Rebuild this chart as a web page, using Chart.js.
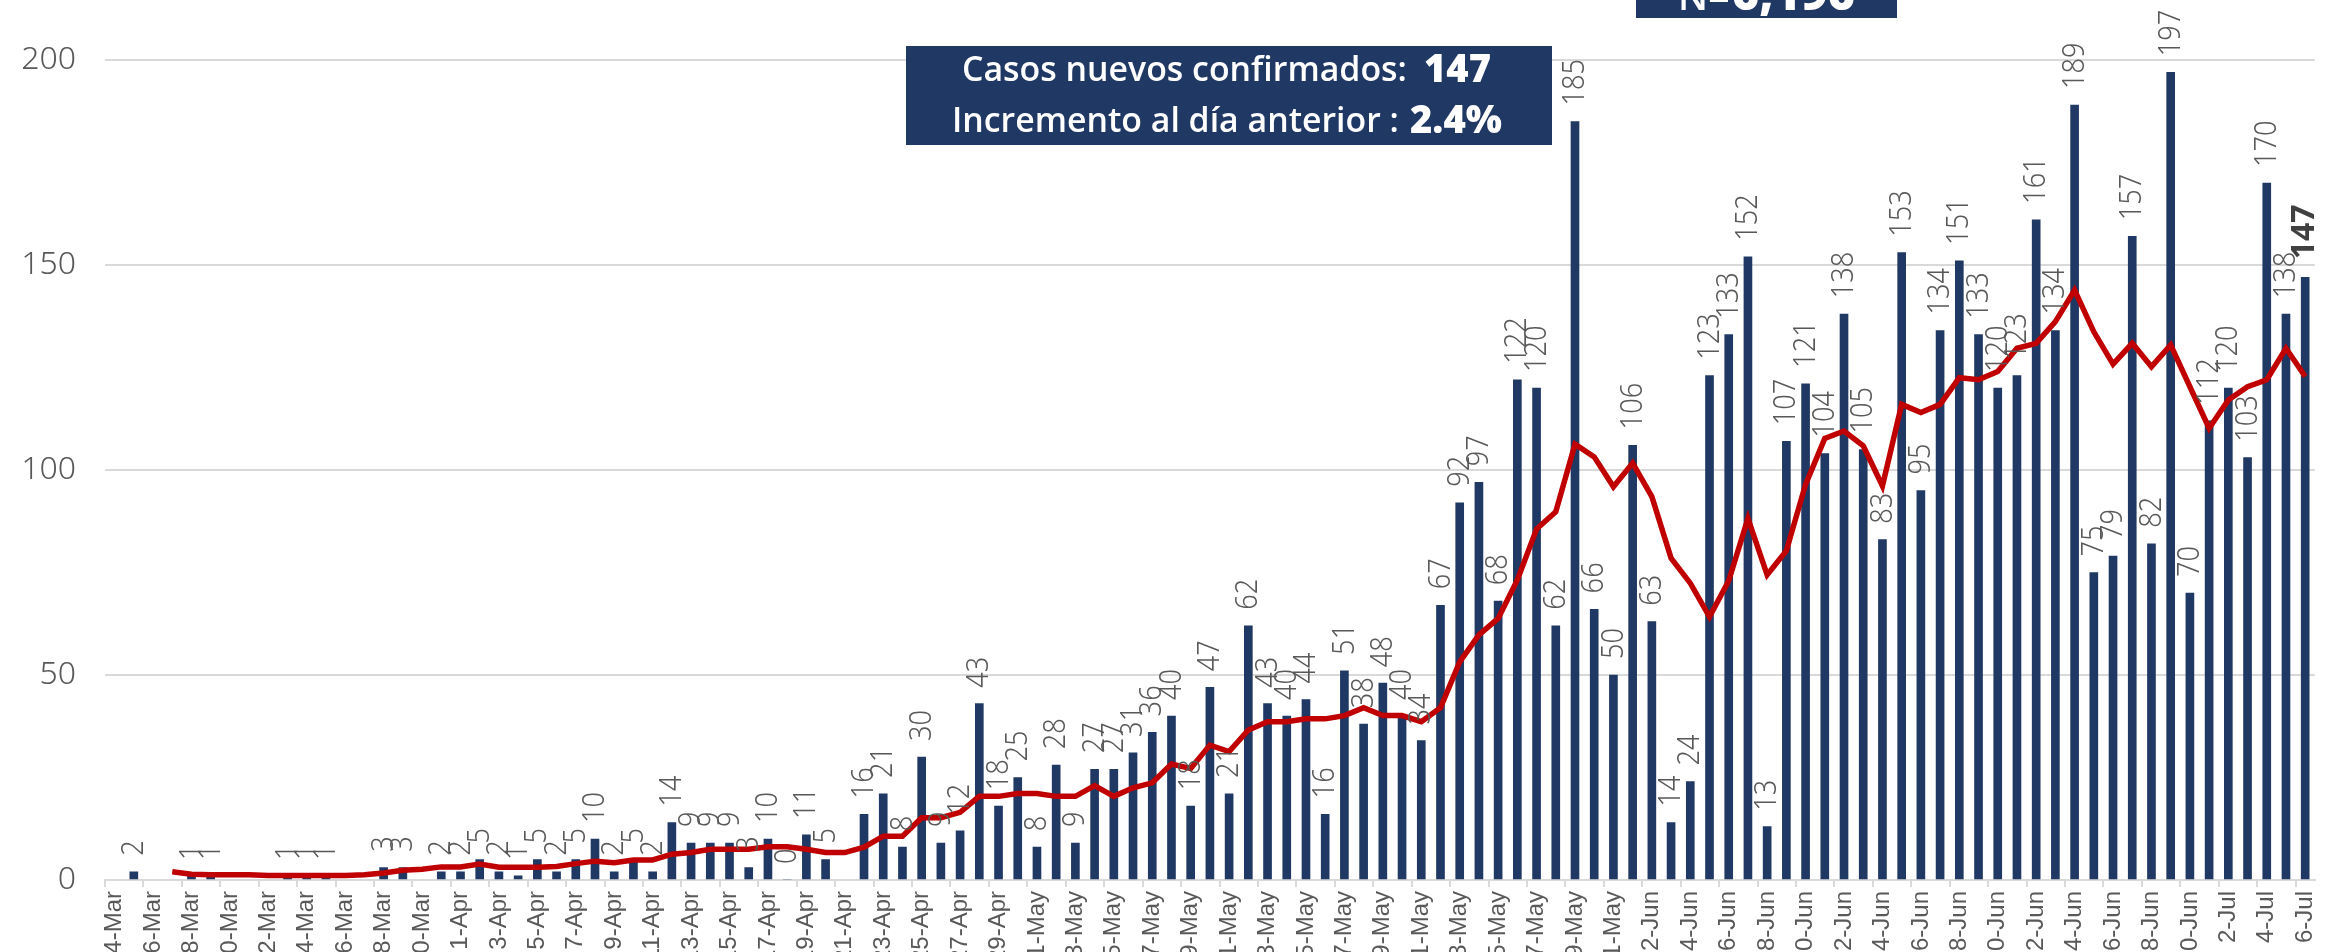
<!DOCTYPE html>
<html>
<head>
<meta charset="utf-8">
<script src="https://cdn.jsdelivr.net/npm/chart.js"></script>
<style>
  html, body { margin: 0; padding: 0; background: #fff; overflow: hidden; }
  #wrap { position: absolute; left: 0; top: 0; width: 2338px; height: 1000px; }
</style>
</head>
<body>
<div id="wrap"><canvas id="myChart" width="2338" height="1000"></canvas></div>
<script>
'use strict';

// fechas (una categoria por dia, 14-Mar a 6-Jul)
const fechas = [
  '14-Mar','15-Mar','16-Mar','17-Mar','18-Mar','19-Mar','20-Mar','21-Mar','22-Mar','23-Mar',
  '24-Mar','25-Mar','26-Mar','27-Mar','28-Mar','29-Mar','30-Mar','31-Mar',
  '1-Apr','2-Apr','3-Apr','4-Apr','5-Apr','6-Apr','7-Apr','8-Apr','9-Apr','10-Apr',
  '11-Apr','12-Apr','13-Apr','14-Apr','15-Apr','16-Apr','17-Apr','18-Apr','19-Apr','20-Apr',
  '21-Apr','22-Apr','23-Apr','24-Apr','25-Apr','26-Apr','27-Apr','28-Apr','29-Apr','30-Apr',
  '1-May','2-May','3-May','4-May','5-May','6-May','7-May','8-May','9-May','10-May',
  '11-May','12-May','13-May','14-May','15-May','16-May','17-May','18-May','19-May','20-May',
  '21-May','22-May','23-May','24-May','25-May','26-May','27-May','28-May','29-May','30-May','31-May',
  '1-Jun','2-Jun','3-Jun','4-Jun','5-Jun','6-Jun','7-Jun','8-Jun','9-Jun','10-Jun',
  '11-Jun','12-Jun','13-Jun','14-Jun','15-Jun','16-Jun','17-Jun','18-Jun','19-Jun','20-Jun',
  '21-Jun','22-Jun','23-Jun','24-Jun','25-Jun','26-Jun','27-Jun','28-Jun','29-Jun','30-Jun',
  '1-Jul','2-Jul','3-Jul','4-Jul','5-Jul','6-Jul'
];

// casos nuevos por dia (null = sin dato)
const casosDiarios = [
  null, 2, null, null, 1, 1, null, null, null, 1,
  1, 1, null, null, 3, 3, null, 2,
  2, 5, 2, 1, 5, 2, 5, 10, 2, 5,
  2, 14, 9, 9, 9, 3, 10, 0, 11, 5,
  null, 16, 21, 8, 30, 9, 12, 43, 18, 25,
  8, 28, 9, 27, 27, 31, 36, 40, 18, 47,
  21, 62, 43, 40, 44, 16, 51, 38, 48, 40,
  34, 67, 92, 97, 68, 122, 120, 62, 185, 66, 50,
  106, 63, 14, 24, 123, 133, 152, 13, 107, 121,
  104, 138, 105, 83, 153, 95, 134, 151, 133, 120,
  123, 161, 134, 189, 75, 79, 157, 82, 197, 70,
  112, 120, 103, 170, 138, 147
];

// linea roja (promedio movil)
const promedioMovil = [
  null, null, null, 2.0, 1.4, 1.3, 1.3, 1.3, 1.1, 1.1,
  1.1, 1.1, 1.1, 1.3, 1.7, 2.4, 2.6, 3.2,
  3.2, 3.9, 3.1, 3.1, 3.1, 3.3, 4.0, 4.6, 4.2, 4.9,
  4.9, 6.3, 6.7, 7.5, 7.5, 7.5, 8.1, 8.1, 7.5, 6.7,
  6.7, 8.0, 10.7, 10.7, 15.2, 15.2, 16.5, 20.4, 20.4, 21.1,
  21.1, 20.4, 20.4, 23.0, 20.4, 22.5, 23.7, 28.3, 27.2, 32.9,
  31.3, 36.6, 38.6, 38.6, 39.3, 39.3, 40.1, 42.0, 40.1, 40.1,
  38.6, 42.0, 53.2, 59.8, 63.8, 73.2, 85.6, 89.8, 106.3, 103.2, 95.9,
  101.7, 93.5, 78.5, 72.4, 64.2, 73.0, 88.2, 74.4, 80.3, 96.5,
  107.7, 109.5, 105.9, 96.1, 116.0, 114.0, 116.0, 122.5, 122.0, 124.0,
  129.7, 130.9, 136.2, 143.9, 133.7, 125.8, 130.9, 125.2, 130.5, 120.3,
  110.2, 117.1, 120.3, 122.0, 129.7, 122.8
];

const yTicks = [0, 50, 100, 150, 200];

const resumen = {
  casosHoy: '147',
  incremento: '2.4%',
  total: '6,196'
};

const NAVY = '#203864';
const GRAY = '#595959';

// escribe texto ajustado a un ancho dado
function fitText(ctx, text, weight, family, x, y, width) {
  ctx.font = weight + ' 100px ' + family;
  const w = ctx.measureText(text).width;
  const size = 100 * width / w;
  ctx.font = weight + ' ' + size.toFixed(2) + 'px ' + family;
  ctx.fillText(text, x, y);
}

const valueLabels = {
  id: 'valueLabels',
  afterDatasetsDraw(chart) {
    const ctx = chart.ctx;
    const meta = chart.getDatasetMeta(0);
    meta.data.forEach((bar, i) => {
      const v = casosDiarios[i];
      if (v === null) return;
      const last = i === casosDiarios.length - 1;
      ctx.save();
      ctx.translate(bar.x, bar.y - (last ? 18 : 16));
      ctx.rotate(-Math.PI / 2);
      if (last) {
        ctx.font = 'bold 32px "Noto Sans"';
        ctx.fillStyle = '#404040';
      } else {
        ctx.scale(0.85, 1);
        ctx.font = '300 32px "Noto Sans"';
        ctx.fillStyle = GRAY;
      }
      ctx.textAlign = 'left';
      ctx.textBaseline = 'middle';
      ctx.fillText(String(v), 0, 0);
      ctx.restore();
    });
  }
};

const boxes = {
  id: 'boxes',
  afterDraw(chart) {
    const ctx = chart.ctx;
    ctx.save();
    // recuadro de casos nuevos
    ctx.fillStyle = NAVY;
    ctx.fillRect(906, 46, 646, 99);
    ctx.fillStyle = '#fff';
    ctx.textBaseline = 'alphabetic';
    ctx.textAlign = 'left';
    fitText(ctx, 'Casos nuevos confirmados:', '600', '"Open Sans"', 962, 81, 445);
    fitText(ctx, resumen.casosHoy, '800', '"Open Sans"', 1424, 82, 67);
    fitText(ctx, 'Incremento al día anterior :', '600', '"Open Sans"', 952, 132, 447);
    fitText(ctx, resumen.incremento, '800', '"Open Sans"', 1410, 133, 92);

    // recuadro N= (cortado arriba)
    ctx.fillStyle = NAVY;
    ctx.fillRect(1636, -20, 261, 38);
    ctx.fillStyle = '#fff';
    fitText(ctx, 'N=', '600', '"Open Sans"', 1678, 10, 52);
    fitText(ctx, resumen.total, '800', '"Open Sans"', 1732, 10, 123);
    ctx.restore();
  }
};

const ctx = document.getElementById('myChart').getContext('2d');

new Chart(ctx, {
  type: 'bar',
  data: {
    labels: fechas,
    datasets: [
      {
        type: 'bar',
        label: 'Casos nuevos',
        data: casosDiarios,
        backgroundColor: NAVY,
        barThickness: 8,
        order: 2
      },
      {
        type: 'line',
        label: 'Promedio',
        data: promedioMovil,
        borderColor: '#C00000',
        borderWidth: 5.5,
        pointRadius: 0,
        tension: 0,
        fill: false,
        order: 1
      }
    ]
  },
  options: {
    responsive: false,
    animation: false,
    devicePixelRatio: 1,
    layout: { padding: { top: 60, right: 2, bottom: 20, left: 0 } },
    plugins: {
      legend: { display: false },
      tooltip: { enabled: false }
    },
    scales: {
      x: {
        offset: true,
        grid: {
          offset: true,
          drawOnChartArea: false,
          tickLength: 7,
          lineWidth: 2,
          color: (c) => (c.index % 2 === 0 ? '#D9D9D9' : 'rgba(0,0,0,0)')
        },
        border: { display: true, color: '#D9D9D9', width: 2 },
        ticks: {
          autoSkip: false,
          minRotation: 90,
          maxRotation: 90,
          padding: 4,
          color: GRAY,
          font: { family: '"Liberation Sans", Arial', size: 24 },
          callback: function (value, index) {
            return index % 2 === 0 ? this.getLabelForValue(value) : '';
          }
        },
        afterFit: (scale) => { scale.height = 100; }
      },
      y: {
        min: 0,
        max: 200,
        afterBuildTicks: (scale) => { scale.ticks = yTicks.map(v => ({ value: v })); },
        grid: { color: '#D9D9D9', lineWidth: 2, drawTicks: false },
        border: { display: false },
        ticks: {
          padding: 29,
          color: GRAY,
          font: { family: '"Noto Sans"', size: 32, weight: '300' }
        },
        afterFit: (scale) => { scale.width = 105; }
      }
    }
  },
  plugins: [valueLabels, boxes]
});
</script>
</body>
</html>
